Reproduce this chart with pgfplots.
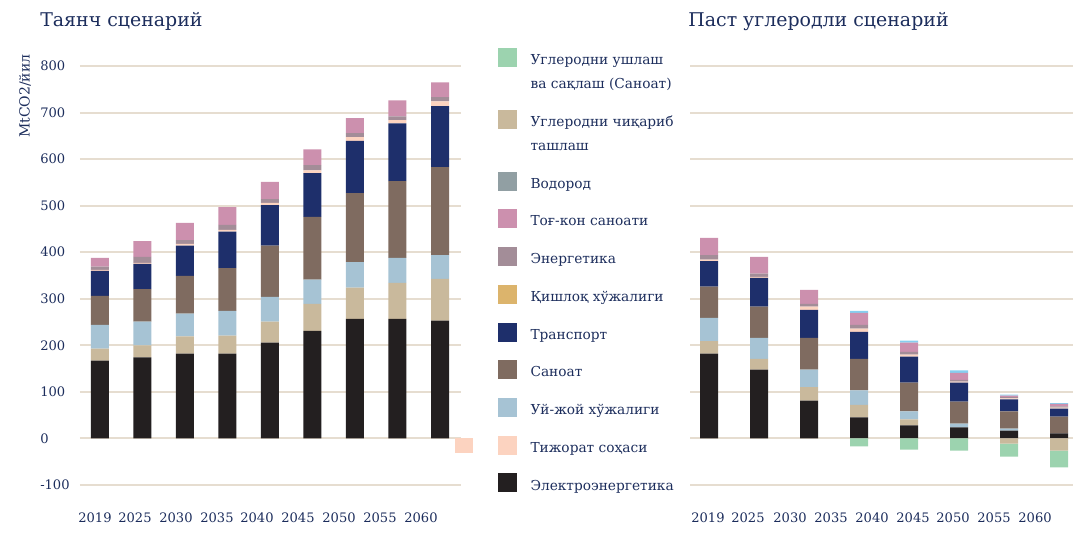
\documentclass[border=0pt]{standalone}
\usepackage{pgfplots}
\pgfplotsset{compat=1.18}
\usepackage{pgfplotstable}
\usepackage{fontspec}
\setmainfont{DejaVu Serif}

\definecolor{ctext}{HTML}{1C2D5C}
\definecolor{cgrid}{HTML}{E6DDD0}
\definecolor{cblack}{HTML}{231F20}
\definecolor{cbeige}{HTML}{C9B99C}
\definecolor{clb}{HTML}{A6C3D4}
\definecolor{cbrown}{HTML}{7F6B60}
\definecolor{cnavy}{HTML}{1E2F6B}
\definecolor{cpeach}{HTML}{FCD3C0}
\definecolor{cmauve}{HTML}{A38D98}
\definecolor{cpink}{HTML}{CC90AE}
\definecolor{csky}{HTML}{87CEEF}
\definecolor{cgrey}{HTML}{919FA3}
\definecolor{cgold}{HTML}{DCB46C}
\definecolor{cgreen}{HTML}{9CD3AF}

% left: baseline scenario
\pgfplotstableread{
x     pn  el  bg  lb  ind tr  com en  min
0     0   167 26  51  62  54  2   7   19
1     0   174 26  51  70  54  2   13  34
2     0   182 37  49  81  65  4   8   37
3     0   182 39  53  92  78  4   11  38
4     0   206 45  53  110 87  5   8   37
5     0   231 58  52  135 94  6   11  34
6     0   257 67  55  148 112 8   9   32
7     0   257 77  54  165 124 7   8   34
8     0   253 90  51  189 131 10  9   32
8.565 -32 0   0   0   0   0   0   0   0
}\lefttab

% right: low carbon scenario
\pgfplotstableread{
x  nb  gr  el  bg  lb  ind tr  com en  min sky
0  0   0   182 27  50  67  55  3   10  37  0
1  0   0   148 23  45  67  62  2   7   36  0
2  0   0   81  29  38  68  60  7   6   30  0
3  0   -17 45  27  31  68  58  7   8   26  4
4  0   -24 28  13  17  62  56  4   6   20  4
5  0   -26 24  0   8   47  41  2   4   15  5
6  -11 -28 17  0   4   37  26  2   3   3   2
7  -26 -36 11  0   0   36  17  2   3   5   2
}\righttab

\pgfplotsset{
  base/.style={
    scale only axis, height=314.25pt,
    ymin=-100, ymax=800, ytick={-100,0,...,800},
    ymajorgrids, grid style={line width=1.5pt, color=cgrid},
    axis line style={draw=none}, major tick length=0pt,
    ybar stacked, bar width=13.5pt,
    clip=false,
    tick label style={font=\fontsize{9.8}{12}\selectfont, text=ctext, inner sep=0pt},
    /pgf/number format/assume math mode=true,
    xticklabel style={anchor=north, yshift=-21pt},
    title style={font=\fontsize{14.2}{16}\selectfont, text=ctext, anchor=west, inner sep=0pt},
  },
  sq/.style={legend image code/.code={\fill[#1] (0pt,-6.75pt) rectangle (13.5pt,6.75pt); \path (24pt,0pt);}},
  sqtwo/.style={legend image code/.code={\fill[#1] (0pt,2.25pt) rectangle (13.5pt,15.75pt); \path (24pt,0pt);}},
}

\begin{document}
\begin{tikzpicture}
\useasboundingbox (0,0) rectangle (814.5pt,399.75pt);

\begin{axis}[base, at={(60pt,36pt)}, anchor=south west, width=285.75pt,
  xmin=-0.47, xmax=8.494,
  xtick={-0.118,0.824,1.788,2.753,3.694,4.659,5.624,6.588,7.553},
  xticklabels={2019,2025,2030,2035,2040,2045,2050,2055,2060},
  yticklabel style={anchor=west, xshift=-30pt},
  title={Таянч сценарий},
  title style={at={(axis description cs:-0.105,1.087)}},
  ylabel={MtCO2/йил},
  ylabel style={at={(axis description cs:-0.144,0.928)}, anchor=center, rotate=0,
    font=\fontsize{10.5}{12}\selectfont, text=ctext, inner sep=0pt},
]
\addplot[fill=cpeach, draw=none] table[x=x,y=pn]{\lefttab};
\addplot[fill=cblack, draw=none] table[x=x,y=el]{\lefttab};
\addplot[fill=cbeige, draw=none] table[x=x,y=bg]{\lefttab};
\addplot[fill=clb, draw=none] table[x=x,y=lb]{\lefttab};
\addplot[fill=cbrown, draw=none] table[x=x,y=ind]{\lefttab};
\addplot[fill=cnavy, draw=none] table[x=x,y=tr]{\lefttab};
\addplot[fill=cpeach, draw=none] table[x=x,y=com]{\lefttab};
\addplot[fill=cmauve, draw=none] table[x=x,y=en]{\lefttab};
\addplot[fill=cpink, draw=none] table[x=x,y=min]{\lefttab};
\end{axis}

\begin{axis}[base, at={(517.5pt,36pt)}, anchor=south west, width=287.25pt,
  xmin=-0.38, xmax=7.28,
  xtick={-0.02,0.78,1.62,2.44,3.26,4.08,4.88,5.70,6.52},
  xticklabels={2019,2025,2030,2035,2040,2045,2050,2055,2060},
  yticklabels={},
  title={Паст углеродли сценарий},
  title style={at={(axis description cs:-0.005,1.087)}},
]
\addplot[fill=cbeige, draw=none] table[x=x,y=nb]{\righttab};
\addplot[fill=cgreen, draw=none] table[x=x,y=gr]{\righttab};
\addplot[fill=cblack, draw=none] table[x=x,y=el]{\righttab};
\addplot[fill=cbeige, draw=none] table[x=x,y=bg]{\righttab};
\addplot[fill=clb, draw=none] table[x=x,y=lb]{\righttab};
\addplot[fill=cbrown, draw=none] table[x=x,y=ind]{\righttab};
\addplot[fill=cnavy, draw=none] table[x=x,y=tr]{\righttab};
\addplot[fill=cpeach, draw=none] table[x=x,y=com]{\righttab};
\addplot[fill=cmauve, draw=none] table[x=x,y=en]{\righttab};
\addplot[fill=cpink, draw=none] table[x=x,y=min]{\righttab};
\addplot[fill=csky, draw=none] table[x=x,y=sky]{\righttab};
\end{axis}

\begin{axis}[scale only axis, at={(60pt,36pt)}, anchor=south west,
  width=285.75pt, height=314.25pt, hide axis,
  xmin=0, xmax=1, ymin=0, ymax=1,
  legend cell align=left,
  legend style={at={(axis description cs:1.0971,1.043)}, anchor=north west,
    draw=none, fill=none, inner sep=0pt, outer sep=0pt, row sep=14.2pt,
    font=\fontsize{10.3}{18}\selectfont, text=ctext,
    nodes={inner sep=0pt}, cells={anchor=west, align=left}},
]
\addlegendimage{sqtwo=cgreen}
\addlegendentry{\strut Углеродни ушлаш\\\strut ва сақлаш (Саноат)}
\addlegendimage{sqtwo=cbeige}
\addlegendentry{\strut Углеродни чиқариб\\\strut ташлаш}
\addlegendimage{sq=cgrey}
\addlegendentry{\strut Водород}
\addlegendimage{sq=cpink}
\addlegendentry{\strut Тоғ-кон саноати}
\addlegendimage{sq=cmauve}
\addlegendentry{\strut Энергетика}
\addlegendimage{sq=cgold}
\addlegendentry{\strut Қишлоқ хўжалиги}
\addlegendimage{sq=cnavy}
\addlegendentry{\strut Транспорт}
\addlegendimage{sq=cbrown}
\addlegendentry{\strut Саноат}
\addlegendimage{sq=clb}
\addlegendentry{\strut Уй-жой хўжалиги}
\addlegendimage{sq=cpeach}
\addlegendentry{\strut Тижорат соҳаси}
\addlegendimage{sq=cblack}
\addlegendentry{\strut Электроэнергетика}
\end{axis}
\end{tikzpicture}
\end{document}
